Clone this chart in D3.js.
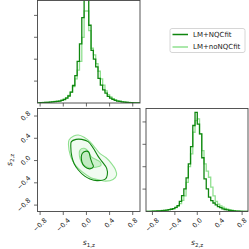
<!DOCTYPE html>
<html><head><meta charset="utf-8">
<script src="https://cdn.jsdelivr.net/npm/d3@7"></script>
<style>body{margin:0;background:#fff}svg{display:block}</style>
</head><body>
<script>
// ---- data ----
const seriesNames = ["LM+NQCfit", "LM+noNQCfit"];
const seriesColors = ["#0f860f", "#8fe08f"];
const binStart = -0.92, binWidth = 0.04;
const s1Dark = [0.01,0.01,0.01,0.02,0.02,0.03,0.03,0.04,0.05,0.06, 0.07,0.09,0.12,0.16,0.22,0.32,0.5,0.8,1.25,1.9, 2.7,3.9,6.5,6.0,3.55,2.4,2.0,1.65,1.12,0.82, 0.6,0.45,0.3,0.22,0.17,0.12,0.09,0.07,0.05,0.04, 0.03,0.02,0.02,0.01,0.01,0.01];
const s1Light = [0.01,0.01,0.02,0.02,0.03,0.03,0.04,0.05,0.06,0.07, 0.08,0.1,0.13,0.17,0.24,0.35,0.5,0.75,1.1,1.5, 1.9,3.0,4.2,4.2,3.3,2.5,2.2,1.8,1.45,1.1, 0.82,0.55,0.38,0.28,0.2,0.15,0.11,0.08,0.06,0.05, 0.04,0.03,0.02,0.02,0.01,0.01];
const s2Dark = [0.01,0.01,0.01,0.02,0.02,0.03,0.03,0.04,0.05,0.06, 0.08,0.1,0.13,0.18,0.26,0.45,0.71,1.01,1.5,2.13, 2.9,3.84,4.43,3.9,3.47,2.4,1.46,1.01,0.64,0.49, 0.38,0.3,0.22,0.17,0.12,0.09,0.07,0.05,0.04,0.03, 0.02,0.02,0.01,0.01,0.01,0.01];
const s2Light = [0.01,0.01,0.02,0.02,0.03,0.03,0.04,0.05,0.05,0.06, 0.08,0.1,0.13,0.17,0.24,0.35,0.5,0.7,1.3,2.0, 2.57,3.54,4.06,4.14,3.47,2.72,2.13,1.8,1.53,1.09, 0.7,0.45,0.33,0.25,0.19,0.14,0.1,0.08,0.06,0.04, 0.03,0.02,0.02,0.01,0.01,0.01];
// contour vertices (s1, s2)
const lightOuter = [[-0.31,0.28],[-0.30,0.37],[-0.22,0.44],[-0.14,0.46],[-0.04,0.42],[0.06,0.34],[0.15,0.23],[0.23,0.13],[0.34,0.05],[0.43,-0.05],[0.50,-0.16],[0.52,-0.26],[0.46,-0.34],[0.33,-0.37],[0.23,-0.35],[0.10,-0.32],[0.0,-0.26],[-0.14,-0.14],[-0.22,-0.04],[-0.28,0.10]];
const darkOuter = [[-0.27,0.25],[-0.26,0.34],[-0.18,0.38],[-0.08,0.38],[0.03,0.34],[0.12,0.22],[0.20,0.08],[0.27,-0.02],[0.35,-0.14],[0.36,-0.26],[0.33,-0.33],[0.18,-0.36],[0.06,-0.33],[-0.03,-0.28],[-0.14,-0.17],[-0.21,-0.06],[-0.25,0.06]];
const lightInner = [[-0.11,0.19],[-0.04,0.22],[0.03,0.17],[0.09,0.06],[0.18,0.01],[0.24,-0.03],[0.25,-0.09],[0.16,-0.12],[0.05,-0.13],[-0.05,-0.08],[-0.11,0.03]];
const darkInner = [[-0.07,0.13],[0.0,0.17],[0.04,0.15],[0.07,0.04],[0.10,-0.05],[0.12,-0.11],[0.06,-0.15],[-0.03,-0.11],[-0.08,-0.02]];
const tickValues = [-0.8, -0.4, 0.0, 0.4, 0.8];
const tickLabels = ["\u22120.8", "\u22120.4", "0.0", "0.4", "0.8"];
const densityTicks = [1, 2, 3, 4];

// ---- layout ----
const W = 249, H = 249;
const svg = d3.select("body").append("svg").attr("width", W).attr("height", H);
const L0 = 37.5, R0 = 140, L1 = 146, R1 = 248;
const T0 = 0.5, B0 = 103, T1 = 108.5, B1 = 211.5;
const frame = "#444", tickLen = 3.5, fs = 6.6;
const font = "DejaVu Sans, sans-serif";

const xS1 = d3.scaleLinear().domain([-0.845, 0.925]).range([L0, R0]);
const yS2 = d3.scaleLinear().domain([-0.915, 0.935]).range([B1, T1]);
const xS2 = d3.scaleLinear().domain([-0.915, 0.905]).range([L1, R1]);
const yH1 = d3.scaleLinear().domain([0, 4.68]).range([B0, T0]);
const yH2 = d3.scaleLinear().domain([0, 4.6]).range([B1, T1]);

const defs = svg.append("defs");
function clip(id, x0, y0, x1, y1) {
  defs.append("clipPath").attr("id", id).append("rect").attr("x", x0).attr("y", y0).attr("width", x1 - x0).attr("height", y1 - y0);
}
clip("c0", L0, T0, R0, B0); clip("c1", L0, T1, R0, B1); clip("c2", L1, T1, R1, B1);

function stepPath(vals, xs, ys) {
  const pts = [[binStart, 0]];
  vals.forEach((v, i) => pts.push([binStart + i * binWidth, v]));
  pts.push([binStart + vals.length * binWidth, vals[vals.length - 1]]);
  pts.push([binStart + vals.length * binWidth, 0]);
  return d3.line().x(d => xs(d[0])).y(d => ys(d[1])).curve(d3.curveStepAfter)(pts);
}

// histograms
const g0 = svg.append("g").attr("clip-path", "url(#c0)");
[[s1Light, 1], [s1Dark, 0]].forEach(([v, c]) => g0.append("path").attr("d", stepPath(v, xS1, yH1)).attr("fill", "none").attr("stroke", seriesColors[c]).attr("stroke-width", 1.3));
const g2 = svg.append("g").attr("clip-path", "url(#c2)");
[[s2Light, 1], [s2Dark, 0]].forEach(([v, c]) => g2.append("path").attr("d", stepPath(v, xS2, yH2)).attr("fill", "none").attr("stroke", seriesColors[c]).attr("stroke-width", 1.3));

// contours
const g1 = svg.append("g").attr("clip-path", "url(#c1)");
const cl = d3.line().x(d => xS1(d[0])).y(d => yS2(d[1])).curve(d3.curveCatmullRomClosed.alpha(0.5));
g1.append("path").attr("d", cl(lightOuter)).attr("fill", "#f1fbf1").attr("stroke", "none");
g1.append("path").attr("d", cl(lightInner)).attr("fill", "#cdf1cd").attr("stroke", "none");
g1.append("path").attr("d", cl(darkInner)).attr("fill", "#bfeabf").attr("fill-opacity", 0.8).attr("stroke", "none");
g1.append("path").attr("d", cl(lightOuter)).attr("fill", "none").attr("stroke", seriesColors[1]).attr("stroke-width", 1.1);
g1.append("path").attr("d", cl(lightInner)).attr("fill", "none").attr("stroke", seriesColors[1]).attr("stroke-width", 1.1);
g1.append("path").attr("d", cl(darkOuter)).attr("fill", "none").attr("stroke", seriesColors[0]).attr("stroke-width", 1.1);
g1.append("path").attr("d", cl(darkInner)).attr("fill", "none").attr("stroke", seriesColors[0]).attr("stroke-width", 1.1);

// frames
[[L0, T0, R0, B0], [L0, T1, R0, B1], [L1, T1, R1, B1]].forEach(([a, b, c, d]) =>
  svg.append("rect").attr("x", a).attr("y", b).attr("width", c - a).attr("height", d - b).attr("fill", "none").attr("stroke", frame).attr("stroke-width", 0.9));

// ticks
function xTicks(xs, y) {
  tickValues.forEach(v => svg.append("line").attr("x1", xs(v)).attr("x2", xs(v)).attr("y1", y).attr("y2", y + tickLen).attr("stroke", frame).attr("stroke-width", 0.8));
}
function yTicks(ys, x, vals) {
  vals.forEach(v => svg.append("line").attr("y1", ys(v)).attr("y2", ys(v)).attr("x1", x).attr("x2", x - tickLen).attr("stroke", frame).attr("stroke-width", 0.8));
}
xTicks(xS1, B0); xTicks(xS1, B1); xTicks(xS2, B1);
yTicks(yH1, L0, densityTicks); yTicks(yS2, L0, tickValues); yTicks(yH2, L1, densityTicks);

function rotLabel(txt, cxFn, cyFn) {
  const t = svg.append("text").text(txt).attr("font-family", font).attr("font-size", fs).attr("fill", "#222")
    .attr("text-anchor", "middle").attr("dominant-baseline", "central");
  const w = t.node().getComputedTextLength();
  const bb = (w + fs * 0.8) / Math.SQRT2;
  t.attr("transform", `translate(${cxFn(bb)},${cyFn(bb)}) rotate(-45)`);
}
tickValues.forEach((v, i) => {
  rotLabel(tickLabels[i], () => xS1(v), bb => B1 + 6 + bb / 2);
  rotLabel(tickLabels[i], () => xS2(v), bb => B1 + 6 + bb / 2);
  rotLabel(tickLabels[i], bb => L0 - 6 - bb / 2, () => yS2(v));
});

// axis labels
function axLabel(x, y, sub, rot) {
  const t = svg.append("text").attr("font-family", font).attr("font-size", 7.5).attr("fill", "#222")
    .attr("text-anchor", "middle").attr("transform", `translate(${x},${y}) rotate(${rot})`);
  t.append("tspan").attr("font-style", "italic").text("s");
  t.append("tspan").attr("font-size", 5.5).attr("dy", 2).text(sub);
}
axLabel((L0 + R0) / 2, 245, "1,z", 0);
axLabel((L1 + R1) / 2, 245, "2,z", 0);
axLabel(12, (T1 + B1) / 2, "2,z", -90);

// legend
const lg = svg.append("g");
lg.append("rect").attr("x", 170).attr("y", 28.5).attr("width", 75).attr("height", 24).attr("rx", 2).attr("fill", "#fff").attr("stroke", "#ccc").attr("stroke-width", 0.8);
seriesNames.forEach((n, i) => {
  const y = 34.5 + i * 12.5;
  lg.append("line").attr("x1", 172.5).attr("x2", 188).attr("y1", y).attr("y2", y).attr("stroke", seriesColors[i]).attr("stroke-width", 1.5);
  lg.append("text").attr("x", 193).attr("y", y).attr("dominant-baseline", "central").attr("font-family", font).attr("font-size", 7).attr("fill", "#222").text(n);
});
</script>
</body></html>
